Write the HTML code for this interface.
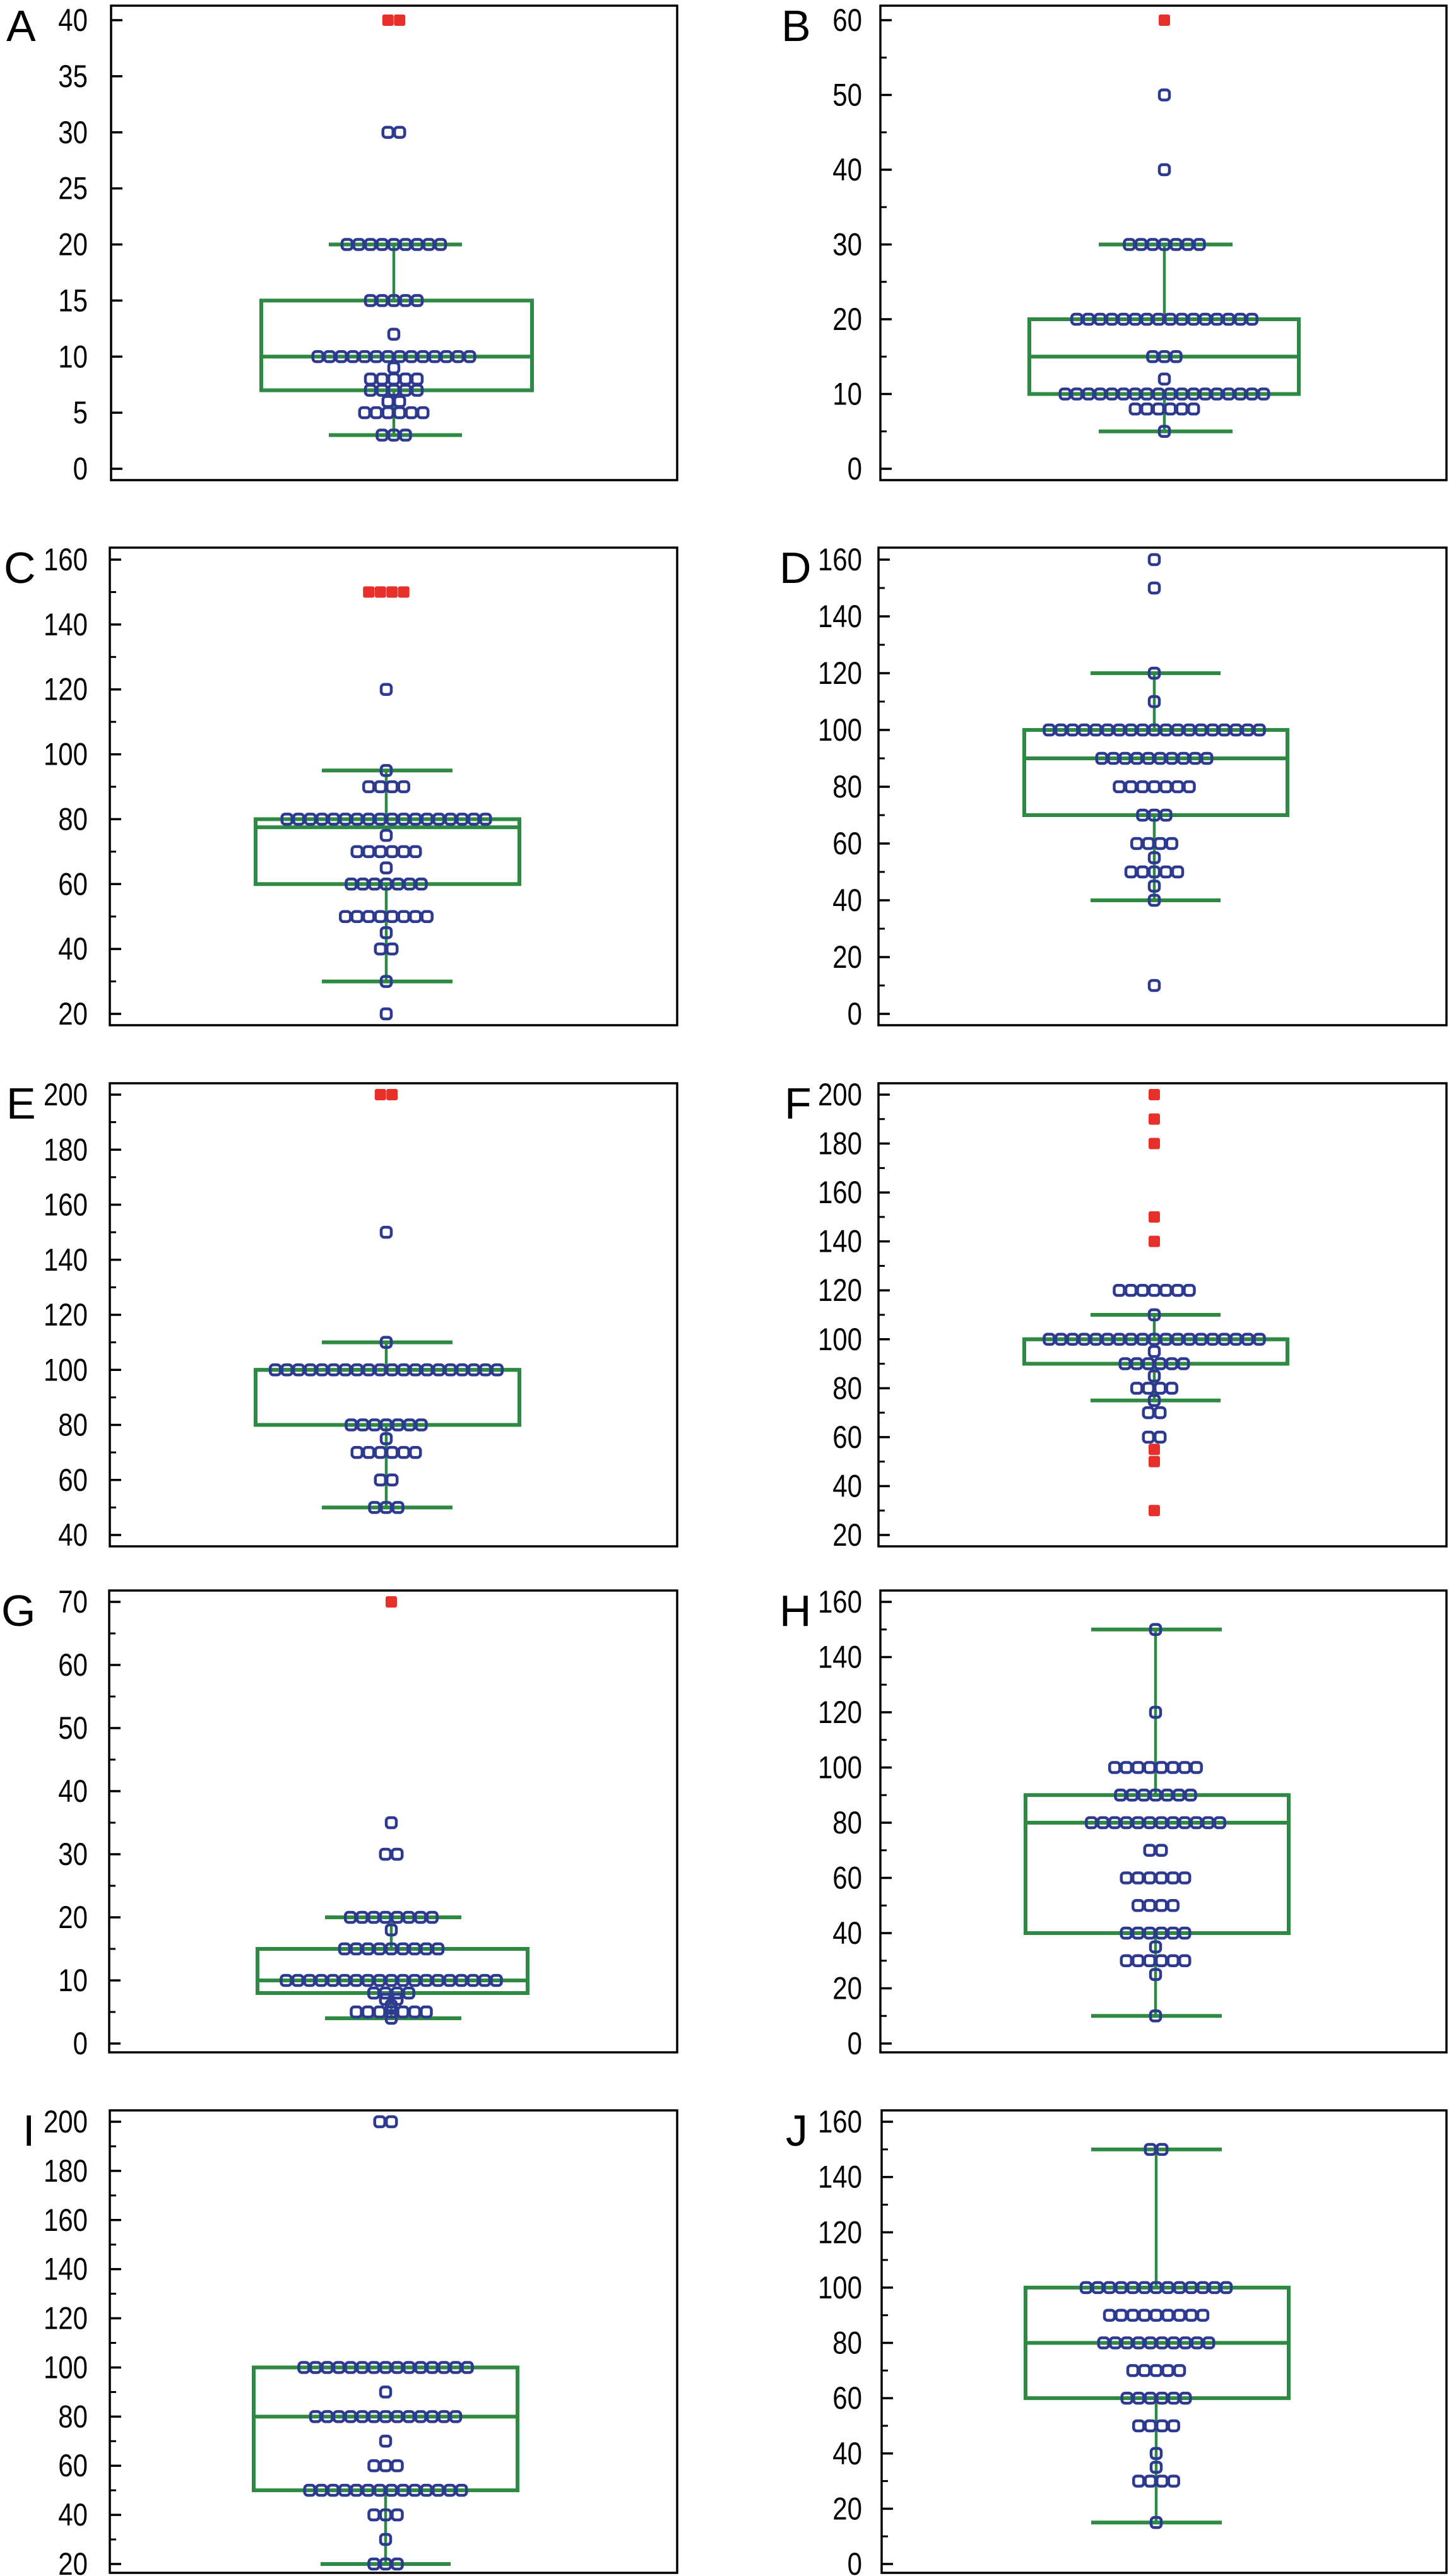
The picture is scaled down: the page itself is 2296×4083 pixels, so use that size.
<!DOCTYPE html>
<html><head><meta charset="utf-8">
<style>
html,body{margin:0;padding:0;background:#fff;}
svg{display:block;}
</style></head>
<body>
<svg id="fig" xmlns="http://www.w3.org/2000/svg" width="2296" height="4083" viewBox="0 0 2296 4083"></svg>
<script>
// ---- Panel data ----
const panelA_values = [30,20,15,12,10,9,8,7,6,5,3];
const panelA_counts = [2,9,5,1,14,1,5,5,2,6,3];
const panelA_red_values = [40];
const panelA_red_counts = [2];
const panelA_box = [3,7,10,15,20];
const panelA_ticks = [0,5,10,15,20,25,30,35,40];

const panelB_values = [50,40,30,20,15,12,10,8,5];
const panelB_counts = [1,1,7,16,3,1,18,6,1];
const panelB_red_values = [60];
const panelB_red_counts = [1];
const panelB_box = [5,10,15,20,30];
const panelB_ticks = [0,10,20,30,40,50,60];

const panelC_values = [120,95,90,80,75,70,65,60,50,45,40,30,20];
const panelC_counts = [1,1,4,18,1,6,1,7,8,1,2,1,1];
const panelC_red_values = [150];
const panelC_red_counts = [4];
const panelC_box = [30,60,77.5,80,95];
const panelC_ticks = [20,40,60,80,100,120,140,160];

const panelD_values = [160,150,120,110,100,90,80,70,60,55,50,45,40,10];
const panelD_counts = [1,1,1,1,19,10,7,3,4,1,5,1,1,1];
const panelD_red_values = [];
const panelD_red_counts = [];
const panelD_box = [40,70,90,100,120];
const panelD_ticks = [0,20,40,60,80,100,120,140,160];

const panelE_values = [150,110,100,80,75,70,60,50];
const panelE_counts = [1,1,20,7,1,6,2,3];
const panelE_red_values = [200];
const panelE_red_counts = [2];
const panelE_box = [50,80,100,100,110];
const panelE_ticks = [40,60,80,100,120,140,160,180,200];

const panelF_values = [120,110,100,95,90,85,80,75,70,60];
const panelF_counts = [7,1,19,1,6,1,4,1,2,2];
const panelF_red_values = [200,190,180,150,140,55,50,30];
const panelF_red_counts = [1,1,1,1,1,1,1,1];
const panelF_box = [75,90,100,100,110];
const panelF_ticks = [20,40,60,80,100,120,140,160,180,200];

const panelG_values = [35,30,20,18,15,10,8,7,6,5,4];
const panelG_counts = [1,2,8,1,9,19,4,2,1,7,1];
const panelG_red_values = [70];
const panelG_red_counts = [1];
const panelG_box = [4,8,10,15,20];
const panelG_ticks = [0,10,20,30,40,50,60,70];

const panelH_values = [150,120,100,90,80,70,60,50,40,35,30,25,10];
const panelH_counts = [1,1,8,7,12,2,6,4,6,1,6,1,1];
const panelH_red_values = [];
const panelH_red_counts = [];
const panelH_box = [10,40,80,90,150];
const panelH_ticks = [0,20,40,60,80,100,120,140,160];

const panelI_values = [200,100,90,80,70,60,50,40,30,20];
const panelI_counts = [2,15,1,13,1,3,14,3,1,3];
const panelI_red_values = [];
const panelI_red_counts = [];
const panelI_box = [20,50,80,100,100];
const panelI_ticks = [20,40,60,80,100,120,140,160,180,200];

const panelJ_values = [150,100,90,80,70,60,50,40,35,30,15];
const panelJ_counts = [2,13,9,10,5,6,4,1,1,4,1];
const panelJ_red_values = [];
const panelJ_red_counts = [];
const panelJ_box = [15,60,80,100,150];
const panelJ_ticks = [0,20,40,60,80,100,120,140,160];

// ---- Layout (pixel geometry, not data) ----
const L = {
 A:{fx0:176,fx1:1073,fy0:9,fy1:761,vt:40,vb:0,pt:32,pb:743,cx:624,bx0:414,bx1:843,cx0:521,cx1:732,minor:0,lblR:139,letX:10},
 B:{fx0:1395,fx1:2292,fy0:9,fy1:761,vt:60,vb:0,pt:32,pb:743,cx:1845,bx0:1631,bx1:2058,cx0:1741,cx1:1953,minor:5,lblR:1366,letX:1238},
 C:{fx0:174,fx1:1073,fy0:868,fy1:1625,vt:160,vb:20,pt:887,pb:1607,cx:612,bx0:405,bx1:823,cx0:510,cx1:717,minor:10,lblR:139,letX:6},
 D:{fx0:1392,fx1:2292,fy0:868,fy1:1625,vt:160,vb:0,pt:887,pb:1607,cx:1829,bx0:1623,bx1:2040,cx0:1728,cx1:1934,minor:10,lblR:1366,letX:1235},
 E:{fx0:174,fx1:1073,fy0:1717,fy1:2451,vt:200,vb:40,pt:1735,pb:2433,cx:612,bx0:405,bx1:823,cx0:510,cx1:717,minor:10,lblR:139,letX:10},
 F:{fx0:1392,fx1:2292,fy0:1717,fy1:2451,vt:200,vb:20,pt:1735,pb:2433,cx:1829,bx0:1623,bx1:2040,cx0:1728,cx1:1934,minor:10,lblR:1366,letX:1243},
 G:{fx0:173,fx1:1073,fy0:2521,fy1:3253,vt:70,vb:0,pt:2539,pb:3239,cx:620,bx0:408,bx1:836,cx0:515,cx1:731,minor:5,lblR:139,letX:2},
 H:{fx0:1395,fx1:2292,fy0:2521,fy1:3253,vt:160,vb:0,pt:2539,pb:3239,cx:1831,bx0:1625,bx1:2042,cx0:1729,cx1:1936,minor:10,lblR:1366,letX:1235},
 I:{fx0:174,fx1:1073,fy0:3345,fy1:4078,vt:200,vb:20,pt:3363,pb:4064,cx:611,bx0:402,bx1:820,cx0:508,cx1:714,minor:10,lblR:139,letX:36},
 J:{fx0:1397,fx1:2292,fy0:3345,fy1:4078,vt:160,vb:0,pt:3363,pb:4064,cx:1832,bx0:1625,bx1:2042,cx0:1729,cx1:1936,minor:10,lblR:1366,letX:1245}
};
const DATA = {
 A:[panelA_values,panelA_counts,panelA_red_values,panelA_red_counts,panelA_box,panelA_ticks],
 B:[panelB_values,panelB_counts,panelB_red_values,panelB_red_counts,panelB_box,panelB_ticks],
 C:[panelC_values,panelC_counts,panelC_red_values,panelC_red_counts,panelC_box,panelC_ticks],
 D:[panelD_values,panelD_counts,panelD_red_values,panelD_red_counts,panelD_box,panelD_ticks],
 E:[panelE_values,panelE_counts,panelE_red_values,panelE_red_counts,panelE_box,panelE_ticks],
 F:[panelF_values,panelF_counts,panelF_red_values,panelF_red_counts,panelF_box,panelF_ticks],
 G:[panelG_values,panelG_counts,panelG_red_values,panelG_red_counts,panelG_box,panelG_ticks],
 H:[panelH_values,panelH_counts,panelH_red_values,panelH_red_counts,panelH_box,panelH_ticks],
 I:[panelI_values,panelI_counts,panelI_red_values,panelI_red_counts,panelI_box,panelI_ticks],
 J:[panelJ_values,panelJ_counts,panelJ_red_values,panelJ_red_counts,panelJ_box,panelJ_ticks]
};

const NS = "http://www.w3.org/2000/svg";
const svg = document.getElementById('fig');
const GREEN = "#2e8a43", NAVY = "#2d3a8f", RED = "#e8302a";
const SP = 18.5, DW = 16, DH = 16;

function mk(tag, attrs, parent){
  const e = document.createElementNS(NS, tag);
  for (const k in attrs) e.setAttribute(k, attrs[k]);
  parent.appendChild(e);
  return e;
}

for (const key of Object.keys(L)) {
  const g = L[key];
  const [vals, cnts, rvals, rcnts, box, ticks] = DATA[key];
  const yS = v => g.pb + (v - g.vb) * (g.pt - g.pb) / (g.vt - g.vb);

  const panel = mk('g', {}, svg);
  
  

  const let_ = mk('text', {x:g.letX, y:g.fy0+56, 'font-family':'Liberation Sans, sans-serif', 'font-size':70, fill:'#000'}, panel);
  let_.textContent = key;
  
  

  const fr = mk('rect', {x:g.fx0, y:g.fy0, width:g.fx1-g.fx0, height:g.fy1-g.fy0, fill:'none', stroke:'#000', 'stroke-width':3.5}, panel);
  
  

  const axis = mk('g', {}, panel);
  
  
  for (const t of ticks) {
    const y = yS(t);
    mk('line', {x1:g.fx0, x2:g.fx0+18, y1:y, y2:y, stroke:'#000', 'stroke-width':3.5}, axis);
    const tx = mk('text', {transform:`translate(${g.lblR},${y+17}) scale(0.84,1)`, 'text-anchor':'end', 'font-family':'Liberation Sans Narrow, Liberation Sans, sans-serif', 'font-size':50, fill:'#000'}, axis);
    tx.textContent = t;
    
    
  }
  if (g.minor) {
    for (let i = 0; i < ticks.length - 1; i++) {
      const y = yS(ticks[i] + g.minor);
      mk('line', {x1:g.fx0, x2:g.fx0+10, y1:y, y2:y, stroke:'#000', 'stroke-width':3}, axis);
    }
  }

  const bg = mk('g', {stroke:GREEN, fill:'none'}, panel);
  
  
  const [mn, q1, md, q3, mx] = box;
  mk('line', {x1:g.cx, x2:g.cx, y1:yS(mn), y2:yS(q1), 'stroke-width':4.5}, bg);
  mk('line', {x1:g.cx, x2:g.cx, y1:yS(q3), y2:yS(mx), 'stroke-width':4.5}, bg);
  mk('line', {x1:g.cx0, x2:g.cx1, y1:yS(mn), y2:yS(mn), 'stroke-width':6}, bg);
  mk('line', {x1:g.cx0, x2:g.cx1, y1:yS(mx), y2:yS(mx), 'stroke-width':6}, bg);
  mk('rect', {x:g.bx0, y:yS(q3), width:g.bx1-g.bx0, height:yS(q1)-yS(q3), 'stroke-width':6}, bg);
  mk('line', {x1:g.bx0, x2:g.bx1, y1:yS(md), y2:yS(md), 'stroke-width':6}, bg);

  const dg = mk('g', {}, panel);
  
  
  vals.forEach((v, i) => {
    const n = cnts[i];
    for (let j = 0; j < n; j++) {
      const x = g.cx + (j - (n - 1) / 2) * SP;
      const d = mk('rect', {x:x-DW/2, y:yS(v)-DH/2, width:DW, height:DH, rx:5, ry:5, fill:'none', stroke:NAVY, 'stroke-width':4.5}, dg);
      
      
    }
  });
  rvals.forEach((v, i) => {
    const n = rcnts[i];
    for (let j = 0; j < n; j++) {
      const x = g.cx + (j - (n - 1) / 2) * SP;
      const d = mk('rect', {x:x-9, y:yS(v)-9, width:18, height:18, rx:3, ry:3, fill:RED}, dg);
      
      
    }
  });
}
</script>
</body></html>
